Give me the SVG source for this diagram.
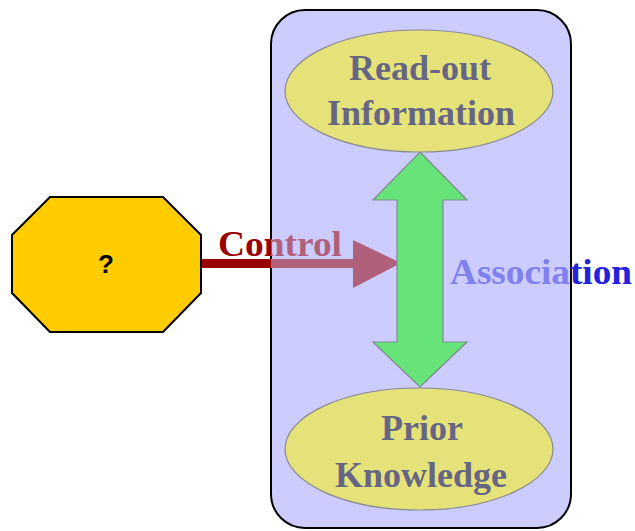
<svg xmlns="http://www.w3.org/2000/svg" width="635" height="531" viewBox="0 0 635 531">
<style>
.lbl{font-family:"Liberation Serif","Times New Roman",serif;font-weight:bold;font-size:36px;text-anchor:middle;fill:#666684}
.ell{fill:#E6E27A;stroke:#8A8A90;stroke-width:1.2}
</style>
<defs>
<clipPath id="outL"><rect x="0" y="0" width="271" height="531"/></clipPath>
<clipPath id="inR"><rect x="271" y="0" width="300" height="531"/></clipPath>
<clipPath id="outR"><rect x="571" y="0" width="64" height="531"/></clipPath>
<g id="ctrlShape">
<rect x="201" y="259" width="153" height="9"/>
<polygon points="353,240 401,263 353,288"/>
<text x="218" y="256" style="font-family:'Liberation Serif','Times New Roman',serif;font-weight:bold;font-size:36px" textLength="124" lengthAdjust="spacingAndGlyphs">Control</text>
</g>
<text id="assocText" x="450" y="284" style="font-family:'Liberation Serif','Times New Roman',serif;font-weight:bold;font-size:36px" textLength="182" lengthAdjust="spacingAndGlyphs">Association</text>
</defs>
<g id="container">
<rect x="271" y="10" width="300" height="518" rx="34" ry="34" fill="#CCCCFF" stroke="#000" stroke-width="2"/>
</g>
<g id="connectors">
<g id="control">
<use href="#ctrlShape" fill="#990000" clip-path="url(#outL)"/>
<use href="#ctrlShape" fill="#B0607A" clip-path="url(#inR)"/>
</g>
<g id="association-arrow">
<polygon points="420,152 467,200 443,200 443,342 467,342 420,387 373,342 397,342 397,200 373,200" fill="#66E47A" stroke="#7F8C8C" stroke-width="1.2"/>
</g>
<g id="association-label">
<use href="#assocText" fill="#8080EE" clip-path="url(#inR)"/>
<use href="#assocText" fill="#2222DD" clip-path="url(#outR)"/>
</g>
</g>
<g id="node-question">
<polygon points="50,197 163,197 201,235 201,293 163,332 50,332 12,293 12,235" fill="#FFCC00" stroke="#000" stroke-width="2"/>
<text x="106" y="273" style="font-family:'Liberation Sans',Arial,sans-serif;font-weight:bold;font-size:26px;text-anchor:middle" fill="#000">?</text>
</g>
<g id="node-readout">
<ellipse class="ell" cx="419" cy="91" rx="134" ry="61"/>
<text class="lbl" x="420" y="80">Read-out</text>
<text class="lbl" x="421" y="125">Information</text>
</g>
<g id="node-prior">
<ellipse class="ell" cx="419" cy="449" rx="134" ry="61"/>
<text class="lbl" x="422" y="440">Prior</text>
<text class="lbl" x="421" y="487">Knowledge</text>
</g>
</svg>
